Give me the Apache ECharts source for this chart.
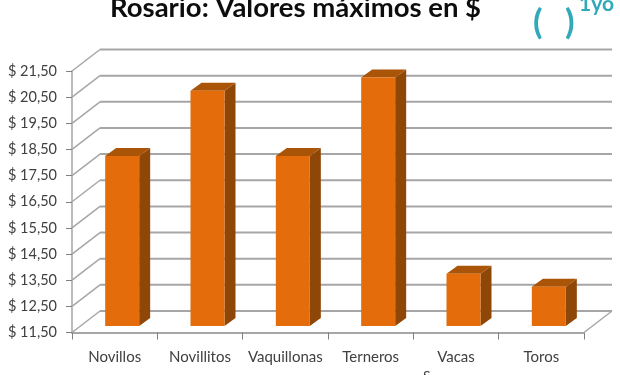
<!DOCTYPE html>
<html><head><meta charset="utf-8">
<style>html,body{margin:0;padding:0;background:#fff}#c{width:620px;height:375px}</style>
<script src="https://cdn.jsdelivr.net/npm/echarts@6/dist/echarts.min.js"></script>
</head><body><div id="c"></div>
<script>
var categories = ['Novillos','Novillitos','Vaquillonas','Terneros','Vacas','Toros'];
var values = [18, 20.5, 18, 21, 13.5, 13];
var tickValues = [11.5,12.5,13.5,14.5,15.5,16.5,17.5,18.5,19.5,20.5,21.5];
var titleText = 'Rosario: Valores máximos en $';

var chart = echarts.init(document.getElementById('c'), null, {renderer:'canvas'});
var DX = 28, DY = -21.5, FX = 11, FY = -8, GAP = -6.5;
var grey = '#a6a6a6';
function fmt(v){ return '$ ' + v.toFixed(2).replace('.', ','); }

chart.setOption({
  animation:false,
  backgroundColor:'#fff',
  title:{show:false},
  grid:{left:72, top:71, width:512, height:261.5},
  xAxis:{type:'category', data:categories, boundaryGap:true,
    axisLine:{lineStyle:{color:grey,width:2}},
    axisTick:{show:true,alignWithLabel:false,length:7,lineStyle:{color:'#808080',width:1}},
    axisLabel:{interval:0,color:'#404040',fontFamily:'Lato',fontSize:15,margin:17}},
  yAxis:{type:'value',min:11.5,max:21.5,interval:1,
    axisLine:{show:true,lineStyle:{color:grey,width:1.5}},
    axisTick:{show:true,length:6,lineStyle:{color:'#808080',width:1}},
    splitLine:{show:false},
    axisLabel:{color:'#404040',fontFamily:'Lato',fontSize:14.5,margin:15,formatter:fmt}},
  series:[
    {type:'custom',coordinateSystem:'cartesian2d',silent:true,z:1,clip:false,
     data:tickValues.map(function(v){return [0,v];}),
     renderItem:function(p,api){
       var c=api.coord([0,api.value(1)]);
       var s=p.coordSys, x0=s.x, x1=s.x+s.width, y=c[1];
       return {type:'group',children:[
         {type:'line',shape:{x1:x0,y1:y,x2:x0+DX,y2:y+DY},style:{stroke:grey,lineWidth:1.5}},
         {type:'line',shape:{x1:x0+DX,y1:y+DY,x2:x1+DX,y2:y+DY},style:{stroke:grey,lineWidth:2}}
       ]};
     }},
    {type:'custom',coordinateSystem:'cartesian2d',silent:true,z:1,clip:false,
     data:[[0,11.5]],
     renderItem:function(p,api){
       var s=p.coordSys,y=api.coord([0,api.value(1)])[1],x1=s.x+s.width;
       return {type:'line',shape:{x1:x1,y1:y,x2:x1+DX,y2:y+DY},style:{stroke:grey,lineWidth:1.5}};
     }},
    {type:'custom',coordinateSystem:'cartesian2d',silent:true,z:3,clip:false,
     data:values.map(function(v,i){return [i,v];}),
     encode:{x:0,y:1},
     renderItem:function(p,api){
       var v=api.value(1), i=api.value(0);
       var top=api.coord([i,v]), base=api.coord([i,11.5]);
       var w=34, l=top[0]-w/2+7.5, r=l+w, t=top[1]+GAP, b=base[1]+GAP;
       return {type:'group',children:[
         {type:'polygon',shape:{points:[[r,t],[r+FX,t+FY],[r+FX,b+FY],[r,b]]},style:{fill:'#8f4708'}},
         {type:'polygon',shape:{points:[[l,t],[l+FX,t+FY],[r+FX,t+FY],[r,t]]},style:{fill:'#aa5407'}},
         {type:'rect',shape:{x:l,y:t,width:w,height:b-t},style:{fill:'#e46c0a'}}
       ]};
     }}
  ],
  graphic:[
    {type:'text',left:110,top:-6,style:{text:titleText,fill:'#0d0d0d',font:'bold 27.5px Lato'}},
    {type:'text',left:533,top:5,style:{text:'(',fill:'#31a9b8',font:'bold 35px Lato'}},
    {type:'text',left:565,top:5,style:{text:')',fill:'#31a9b8',font:'bold 35px Lato'}},
    {type:'text',left:579,top:-6,style:{text:'1yo',fill:'#31a9b8',font:'bold 21px Lato'}},
    {type:'text',left:423,top:369,style:{text:'S',fill:'#404040',font:'14px Lato'}}
  ]
});
</script></body></html>
